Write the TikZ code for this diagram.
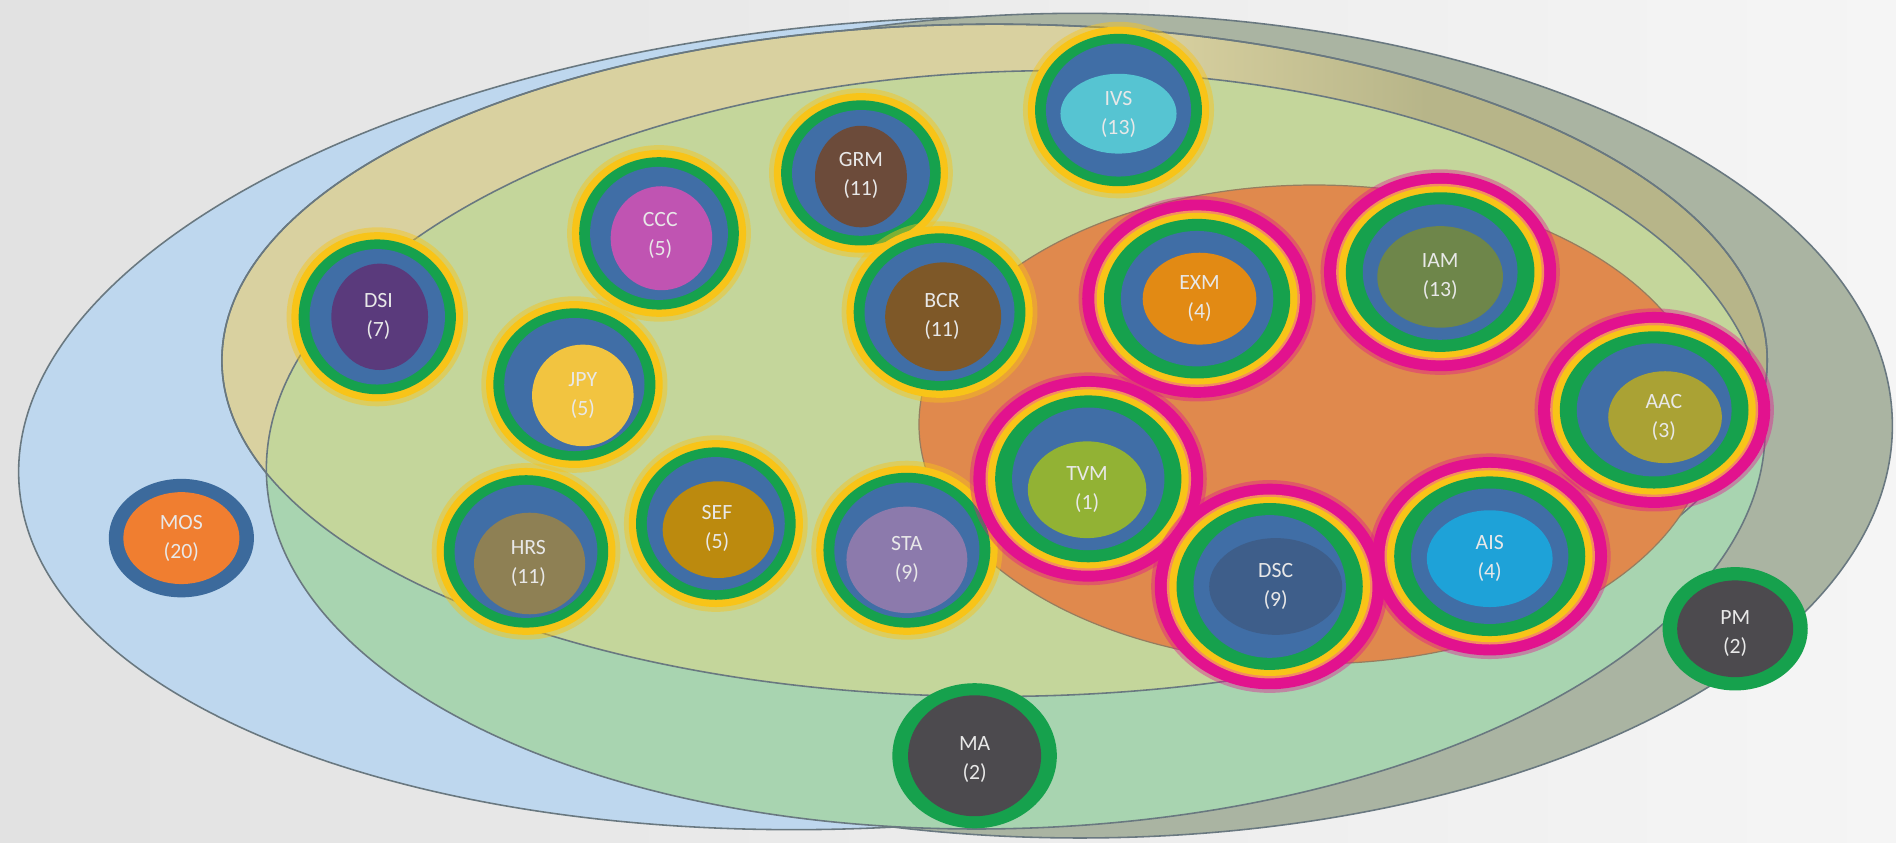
\documentclass[tikz,border=0pt]{standalone}
\usepackage{fontspec}
\setmainfont{Carlito}
\definecolor{bgL}{RGB}{226,226,226}
\definecolor{bgR}{RGB}{245,245,245}
\definecolor{cB}{RGB}{190,215,238}
\definecolor{cG}{RGB}{170,180,162}
\definecolor{cTan}{RGB}{217,209,160}
\definecolor{cOlive}{RGB}{183,181,137}
\definecolor{cMint}{RGB}{168,212,176}
\definecolor{cLime}{RGB}{196,214,155}
\definecolor{cOr}{RGB}{224,137,77}
\definecolor{cLine}{RGB}{105,120,128}
\definecolor{cOrLine}{RGB}{150,125,95}
\definecolor{cYel}{RGB}{248,196,24}
\definecolor{cGrn}{RGB}{22,161,77}
\definecolor{cBlu}{RGB}{64,110,166}
\definecolor{cMag}{RGB}{226,18,142}
\definecolor{cOrg}{RGB}{244,140,96}
\definecolor{cIVS}{RGB}{86,196,210}
\definecolor{cGRM}{RGB}{108,75,58}
\definecolor{cCCC}{RGB}{192,84,178}
\definecolor{cDSI}{RGB}{90,58,124}
\definecolor{cJPY}{RGB}{242,196,64}
\definecolor{cBCR}{RGB}{126,88,40}
\definecolor{cHRS}{RGB}{142,128,84}
\definecolor{cSEF}{RGB}{188,138,14}
\definecolor{cSTA}{RGB}{140,122,172}
\definecolor{cEXM}{RGB}{226,138,20}
\definecolor{cIAM}{RGB}{110,134,74}
\definecolor{cAAC}{RGB}{170,162,52}
\definecolor{cTVM}{RGB}{146,178,52}
\definecolor{cDSC}{RGB}{62,94,138}
\definecolor{cAIS}{RGB}{30,162,216}
\definecolor{cMOSr}{RGB}{60,106,156}
\definecolor{cMOS}{RGB}{240,126,48}
\definecolor{cDark}{RGB}{76,74,78}
\definecolor{cText}{RGB}{232,232,232}

\tikzset{
  outl/.style={draw=cLine, line width=1.3pt},
  oline/.style={draw=cOrLine, line width=1pt},
  shapeB/.style={rotate around={4:(745,350)}},
  shapeE/.style={rotate around={2:(840,372)}},
  lbl/.style={text=cText, font=\fontsize{18}{24}\selectfont, align=center, inner sep=0pt}
}
\def\pB{(745,350) ellipse [x radius=731pt, y radius=333pt]}
\def\pG{(893,352) ellipse [x radius=672pt, y radius=341pt]}
\def\pD{(822.5,298) ellipse [x radius=639pt, y radius=278pt]}
\def\pE{(840,372) ellipse [x radius=620pt, y radius=313pt]}
\def\pO{(1087,351) ellipse [x radius=327pt, y radius=198pt]}

% yellow-ringed code: center, rx, ry, inner center, irx, iry, colour
\newcommand{\ycode}[7]{%
  \fill[cYel, opacity=0.45] #1 ellipse [x radius=#2pt+4pt, y radius=#3pt+4pt];
  \fill[cYel] #1 ellipse [x radius=#2pt, y radius=#3pt];
  \fill[cGrn] #1 ellipse [x radius=#2pt-6pt, y radius=#3pt-6pt];
  \fill[cBlu] #1 ellipse [x radius=#2pt-15pt, y radius=#3pt-14pt];
  \fill[#7] #4 ellipse [x radius=#5pt, y radius=#6pt];
}
% magenta-ringed code
\newcommand{\mcode}[7]{%
  \fill[cMag, opacity=0.4] #1 ellipse [x radius=#2pt+3pt, y radius=#3pt+3pt];
  \fill[cMag] #1 ellipse [x radius=#2pt, y radius=#3pt];
  \fill[cOrg] #1 ellipse [x radius=#2pt-10pt, y radius=#3pt-9pt];
  \fill[cYel] #1 ellipse [x radius=#2pt-12pt, y radius=#3pt-11pt];
  \fill[cGrn] #1 ellipse [x radius=#2pt-18pt, y radius=#3pt-16pt];
  \fill[cBlu] #1 ellipse [x radius=#2pt-32pt, y radius=#3pt-26pt];
  \fill[#7] #4 ellipse [x radius=#5pt, y radius=#6pt];
}
% single-ring code: center, rx, ry, ring colour, irx, iry, inner colour
\newcommand{\scode}[7]{%
  \fill[#4] #1 ellipse [x radius=#2pt, y radius=#3pt];
  \fill[#7] #1 ellipse [x radius=#5pt, y radius=#6pt];
}

\begin{document}
\begin{tikzpicture}[x=1pt,y=-1pt]
\useasboundingbox (0,0) rectangle (1568,697);
\shade[left color=bgL, right color=bgR] (0,0) rectangle (1568,697);

% big sets
\fill[cB, shapeB] \pB;
\draw[outl, shapeB] \pB;
\fill[cG] \pG;
\draw[outl] \pG;
\begin{scope}
  \clip \pD;
  \fill[cTan] (0,0) rectangle (1568,697);
  \shade[left color=cTan, right color=cOlive] (950,0) rectangle (1180,697);
  \fill[cOlive] (1180,0) rectangle (1568,697);
\end{scope}
\draw[outl] \pD;
\fill[cMint, shapeE] \pE;
\begin{scope}
  \clip \pD;
  \fill[cLime, shapeE] \pE;
\end{scope}
\draw[outl] \pD;
\draw[outl, shapeE] \pE;
\fill[cOr] \pO;
\draw[oline] \pO;

% codes
\ycode{(925,91)}{75}{69}{(925,94)}{48}{33}{cIVS}
\node[lbl] (IVS) at (925,95) {IVS\\(13)};
\ycode{(712,143)}{72}{66}{(712,146)}{38}{42}{cGRM}
\node[lbl] (GRM) at (712,145) {GRM\\(11)};
\ycode{(777,258)}{77}{71}{(780,262)}{48}{45}{cBCR}
\node[lbl] (BCR) at (779,262) {BCR\\(11)};
\ycode{(545,193)}{72}{69}{(547,197)}{42}{43}{cCCC}
\node[lbl] (CCC) at (546,195) {CCC\\(5)};
\ycode{(312,262)}{71}{70}{(314,262)}{40}{44}{cDSI}
\node[lbl] (DSI) at (313,262) {DSI\\(7)};
\ycode{(475,318)}{73}{69}{(482,327)}{42}{42}{cJPY}
\node[lbl] (JPY) at (482,327) {JPY\\(5)};
\ycode{(592,433)}{72}{69}{(594,438)}{46}{40}{cSEF}
\node[lbl] (SEF) at (593,437) {SEF\\(5)};
\ycode{(435,456)}{74}{69}{(438,466)}{46}{42}{cHRS}
\node[lbl] (HRS) at (437,466) {HRS\\(11)};
\ycode{(750,455)}{75}{70}{(750,463)}{50}{44}{cSTA}
\node[lbl] (STA) at (750,463) {STA\\(9)};

\scode{(150,445)}{60}{49}{cMOSr}{48}{38}{cMOS}
\node[lbl] (MOS) at (150,445) {MOS\\(20)};
\scode{(806,625)}{68}{60}{cGrn}{55}{50}{cDark}
\node[lbl] (MA) at (806,628) {MA\\(2)};
\scode{(1435,520)}{60}{51}{cGrn}{48}{40}{cDark}
\node[lbl] (PM) at (1435,524) {PM\\(2)};

\mcode{(900,396)}{95}{85}{(899,405)}{49}{40}{cTVM}
\node[lbl] (TVM) at (899,405) {TVM\\(1)};
\mcode{(990,247)}{95}{82}{(992,247)}{47}{38}{cEXM}
\node[lbl] (EXM) at (992,247) {EXM\\(4)};
\mcode{(1191,225)}{96}{82}{(1191,229)}{52}{42}{cIAM}
\node[lbl] (IAM) at (1191,229) {IAM\\(13)};
\mcode{(1050,485)}{95}{85}{(1055,485)}{55}{40}{cDSC}
\node[lbl] (DSC) at (1055,485) {DSC\\(9)};
\mcode{(1232,460)}{97}{82}{(1232,462)}{52}{40}{cAIS}
\node[lbl] (AIS) at (1232,462) {AIS\\(4)};
\mcode{(1368,339)}{96}{81}{(1377,345)}{47}{38}{cAAC}
\node[lbl] (AAC) at (1376,345) {AAC\\(3)};
\end{tikzpicture}
\end{document}
